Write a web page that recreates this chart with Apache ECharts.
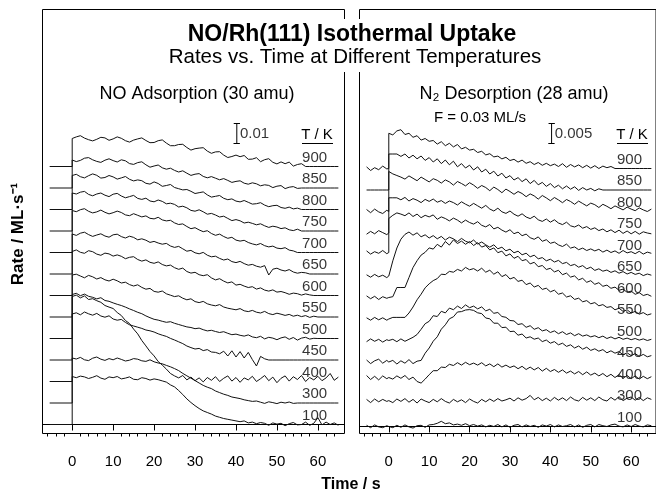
<!DOCTYPE html>
<html>
<head>
<meta charset="utf-8">
<script src="https://cdn.jsdelivr.net/npm/echarts@6/dist/echarts.min.js"></script>
<style>
html, body { margin: 0; padding: 0; background: #fff; }
#chart { width: 656px; height: 493px; }
</style>
</head>
<body>
<div id="chart"></div>
<script>
// surface temperatures, top trace first
const temps = [900, 850, 800, 750, 700, 650, 600, 550, 500, 450, 400, 300, 100]

// major ticks / labels of the time axes (s)
const timeTicks = [0, 10, 20, 30, 40, 50, 60]

// time (s) of the NO adsorption samples, 0 twice for the step when the beam opens
const noTime = [-5.5, 0, 0,
  1, 2, 3, 4, 5, 6, 7, 8, 9, 10, 11, 12, 13, 14, 15, 16, 17, 18, 19, 20,
  21, 22, 23, 24, 25, 26, 27, 28, 29, 30, 31, 32, 33, 34, 35, 36, 37, 38, 39, 40,
  41, 42, 43, 44, 45, 46, 47, 48, 49, 50, 51, 52, 53, 54, 55, 56, 57, 58, 59, 60,
  61, 62, 63, 64, 65]

// time (s) of the N2 desorption samples
const n2Time = [-5.5, -4.5, -3.5, -2.5, -1.5, -0.5, 0, 0,
  1, 2, 3, 4, 5, 6, 7, 8, 9, 10, 11, 12, 13, 14, 15, 16, 17, 18, 19, 20,
  21, 22, 23, 24, 25, 26, 27, 28, 29, 30, 31, 32, 33, 34, 35, 36, 37, 38, 39, 40,
  41, 42, 43, 44, 45, 46, 47, 48, 49, 50, 51, 52, 53, 54, 55, 56, 57, 58, 59, 60,
  61, 62, 63, 64, 65]

// NO adsorption rate (30 amu), units of 1e-4 ML/s
const noRate900 = [0, 0, 140,
  148, 154, 142, 134, 128, 136, 146, 143, 131, 138,
  148, 141, 129, 122, 132, 138, 143, 130, 119, 120,
  129, 133, 117, 104, 104, 110, 111, 95, 82, 89,
  92, 94, 77, 66, 73, 74, 57, 45, 50, 57,
  49, 55, 36, 37, 44, 24, 34, 39, 21, 13,
  23, 14, 22, 2, 10, 14, 0, 0, 0, 0, 0, 0, 0, 0, 0]
const noRate850 = [0, 0, 140,
  132, 138, 149, 152, 141, 133, 128, 139, 146, 137,
  130, 141, 136, 122, 118, 127, 131, 116, 104, 110,
  115, 101, 94, 99, 88, 80, 86, 74, 63, 69,
  72, 58, 51, 57, 49, 41, 47, 38, 28, 33,
  36, 24, 19, 26, 21, 11, 16, 13, 2, 9,
  12, -3, 4, 7, -2, 0, 0, 0, 0, 0, 0, 0, 0, 0, 0]
const noRate800 = [0, 0, 170,
  176, 164, 158, 169, 178, 171, 157, 160, 170, 163,
  152, 158, 165, 151, 143, 148, 144, 131, 127, 138,
  130, 116, 120, 125, 110, 104, 98, 100, 91, 80,
  84, 88, 73, 62, 66, 70, 56, 49, 53, 42,
  38, 45, 36, 27, 29, 34, 22, 14, 19, 21,
  10, 6, 12, 3, 7, 0, 0, 0, 0, 0, 0, 0, 0, 0, 0]
const noRate750 = [0, 0, 190,
  185, 194, 198, 183, 176, 185, 190, 179, 172, 184,
  188, 175, 166, 172, 178, 163, 158, 164, 150, 146,
  155, 148, 136, 139, 133, 120, 124, 116, 103, 99,
  106, 96, 84, 88, 80, 70, 74, 63, 52, 57,
  51, 40, 44, 38, 31, 36, 26, 18, 24, 20,
  12, 16, 6, 2, 9, 0, 0, 0, 0, 0, 0, 0, 0, 0, 0]
const noRate700 = [0, 0, 210,
  204, 214, 219, 206, 198, 203, 212, 201, 193, 199,
  207, 200, 188, 184, 194, 186, 178, 183, 171, 168,
  176, 163, 158, 161, 148, 140, 143, 130, 119, 124,
  113, 104, 109, 95, 86, 92, 80, 71, 76, 62,
  57, 61, 50, 43, 38, 45, 34, 28, 32, 22,
  19, 24, 12, 8, 0, 0, 0, 0, 0, 0, 0, 0, 0, 0, 0]
const noRate650 = [0, 0, 200,
  193, 204, 209, 197, 188, 195, 201, 190, 184, 196,
  199, 187, 180, 189, 183, 171, 176, 169, 158, 163,
  155, 149, 153, 140, 133, 138, 126, 114, 118, 106,
  101, 108, 94, 86, 89, 78, 70, 75, 62, 57,
  63, 52, 44, 48, 39, 34, 42, -5, 24, 29,
  20, 15, 22, 10, 4, 8, 6, 0, 0, 0, 0, 0, 0, 0, 0]
const noRate600 = [0, 0, 220,
  228, 216, 211, 224, 219, 207, 201, 212, 208, 197,
  203, 196, 184, 191, 194, 180, 172, 178, 166, 161,
  168, 155, 148, 152, 139, 131, 137, 120, 112, 116,
  104, 99, 104, 88, 78, 84, 72, 63, 68, 52,
  56, 47, 40, 44, 32, 38, 27, 22, 28, 17,
  20, 14, 6, 12, 9, 2, 8, 3, 0, 0, 0, 0, 0, 0, 0]
const noRate550 = [0, 0, 210,
  214, 205, 196, 208, 201, 190, 197, 186, 180, 189,
  181, 170, 174, 162, 155, 161, 148, 139, 143, 128,
  124, 130, 116, 109, 102, 106, 94, 86, 91, 77,
  72, 78, 66, 60, 56, 62, 50, 44, 40, 36,
  42, 31, 27, 33, 24, 20, 28, 17, 12, 19,
  14, 8, 13, 4, 9, 2, 7, -2, 4, 0, 0, 0, 0, 0, 0]
const noRate500 = [0, 0, 220,
  226, 214, 222, 211, 206, 198, 204, 190, 186, 178,
  171, 165, 157, 148, 140, 131, 124, 113, 104, 96,
  92, 86, 81, 84, 76, 70, 64, 58, 55, 49,
  52, 44, 38, 41, 35, 30, 34, 26, 19, 22,
  16, 12, 18, 8, 4, 11, -2, 6, 2, -6,
  3, 8, -4, 5, -8, 2, 6, -3, 1, 0, 0, 0, 0, 0, 0]
const noRate450 = [0, 0, 230,
  236, 226, 240, 231, 224, 233, 220, 214, 221, 205,
  199, 203, 188, 176, 170, 164, 158, 150, 146, 140,
  131, 124, 118, 108, 100, 91, 82, 70, 62, 55,
  58, 47, 52, 40, 38, 31, 44, 20, 46, 15,
  42, 10, 38, 2, -30, 18, 6,
  0, 0, 0, 0, 0, 0, 0, 0, 0, 0, 0, 0, 0, 0, 0, 0, 0, 0]
const noRate400 = [0, 0, 425,
  432, 418, 428, 410, 414, 404, 396, 380, 372, 365,
  345, 330, 305, 290, 262, 238, 205, 178, 150, 128,
  100, 82, 62, 40, 28, 18, 30, 8, 22, 4,
  18, -2, 20, 6, 24, 0, 16, 28, 2, 20,
  -4, 18, 8, 26, 0, 14, 30, 4, 22, -6,
  16, 28, 2, 24, 10, 30, 0, 20, 8, 26,
  4, 18, 40, 6, 22]
const noRate300 = [0, 0, 225,
  220, 228, 216, 212, 224, 230, 219, 213, 222, 216,
  225, 218, 210, 214, 222, 219, 211, 208, 216, 206,
  200, 196, 188, 181, 172, 162, 148, 136, 124, 112,
  100, 88, 79, 72, 60, 52, 44, 38, 30, 26,
  22, 16, 12, 8, 10, 4, -2, 6, 2, -3,
  4, 0, 5, -2, 0, 0, 0, 0, 0, 0, 0, 0, 0, 0, 0]
const noRate100 = [0, 0, 240,
  234, 242, 238, 230, 236, 244, 232, 226, 238, 234,
  240, 228, 232, 238, 226, 224, 234, 230, 222, 228,
  224, 218, 212, 198, 188, 170, 150, 128, 110, 94,
  80, 68, 60, 52, 42, 36, 30, 26, 22, 18,
  14, 18, 8, 12, 4, 10, 6, -4, 8, 2,
  6, -6, 4, 10, -2, 0, 12, -4, 6, 34,
  -2, 12, 0, 8, -4]

// N2 desorption rate (28 amu), units of 1e-4 ML/s
const n2Rate900 = [4, -5, 2, -3, 6, -1, 0, 88,
  84, 94, 97, 85, 88, 78, 82, 71, 75, 68,
  70, 61, 67, 57, 63, 54, 60, 49, 53, 46,
  48, 40, 43, 34, 37, 29, 31, 24, 28, 20,
  23, 16, 21, 13, 17, 10, 15, 8, 13, 7,
  11, 5, 12, 3, 10, 4, 9, 2, 8, 1,
  7, 0, 6, 2, 5, 0, 0, 0, 0, 0, 0, 0, 0, 0, 0]
const n2Rate850 = [0, 0, 0, 0, 0, 0, 0, 90,
  90, 90, 84, 90, 80, 87, 78, 85, 74, 81,
  70, 78, 66, 75, 63, 72, 58, 66, 55, 62,
  50, 58, 45, 52, 40, 47, 35, 42, 30, 36,
  25, 31, 21, 28, 16, 24, 13, 19, 9, 16,
  6, 12, 3, 10, 2, 8, -1, 6, 0, 4,
  -2, 3, 0, 0, 0, 0, 0, 0, 0, 0, 0, 0, 0, 0, 0]
const n2Rate800 = [5, -3, 6, -1, -5, 3, 0, 100,
  94, 90, 86, 81, 89, 83, 77, 86, 80, 74,
  82, 78, 71, 79, 74, 66, 75, 70, 64, 72,
  66, 58, 65, 60, 52, 61, 55, 47, 56, 50,
  43, 50, 45, 37, 44, 39, 31, 40, 34, 27,
  35, 29, 22, 30, 25, 18, 26, 20, 14, 21,
  17, 10, 18, 13, 7, 14, 9, 4, 11, 6,
  2, 9, 4, 0, 6]
const n2Rate750 = [-3, 4, -2, 6, 1, -4, 0, 88,
  88, 88, 83, 89, 80, 86, 82, 76, 84, 79,
  85, 77, 81, 74, 80, 76, 70, 78, 72, 67,
  74, 68, 62, 69, 60, 55, 62, 53, 49, 55,
  47, 42, 48, 40, 36, 42, 33, 29, 35, 27,
  33, 25, 21, 27, 18, 15, 20, 12, 16, 9,
  13, 6, 10, 3, 8, 1, 7, -1, 5, -2,
  4, -3, 3, 0, -2]
const n2Rate700 = [9, 1, 7, 3, 10, 2, 5, 90,
  98, 104, 101, 97, 104, 95, 101, 92, 98, 94,
  99, 88, 94, 90, 84, 91, 86, 79, 86, 80,
  76, 82, 73, 69, 75, 64, 68, 61, 56, 62,
  52, 56, 47, 51, 42, 38, 44, 33, 37, 28,
  31, 24, 20, 26, 16, 19, 12, 16, 10, 14,
  9, 13, 6, 11, 5, 9, 3, 10, 4, 7,
  2, 8, 1, 6, 3]
const n2Rate650 = [3, -3, 4, -2, 2, -4, 0, 0,
  38, 70, 92, 104, 110, 102, 108, 98, 103, 95,
  101, 93, 99, 90, 97, 93, 86, 94, 87, 83,
  90, 80, 85, 78, 72, 78, 68, 72, 63, 67,
  58, 62, 53, 57, 48, 52, 43, 46, 38, 42,
  35, 39, 31, 34, 26, 29, 22, 26, 18, 22,
  14, 18, 12, 15, 9, 13, 7, 11, 5, 9,
  4, 7, 1, 5, 2]
const n2Rate600 = [4, -3, 3, -5, 2, -2, 0, 0,
  2, 25, 25, 25, 50, 75, 92, 106, 113, 124,
  121, 133, 126, 140, 131, 144, 135, 141, 133, 140,
  130, 137, 126, 130, 119, 124, 112, 116, 104, 109,
  98, 103, 92, 95, 84, 88, 77, 80, 70, 73,
  64, 68, 57, 61, 51, 54, 44, 48, 38, 42,
  33, 37, 28, 31, 23, 26, 18, 21, 13, 16,
  8, 12, 5, 8, 3]
const n2Rate550 = [3, -3, 4, -2, 3, -3, 0, 4,
  4, 4, 4, 4, 15, 30, 48, 62, 78, 88,
  96, 101, 112, 111, 119, 117, 124, 120, 129, 123,
  126, 120, 127, 117, 122, 112, 118, 106, 111, 100,
  104, 94, 97, 86, 90, 80, 84, 74, 77, 68,
  72, 62, 65, 55, 58, 49, 52, 43, 46, 38,
  41, 33, 36, 29, 31, 23, 27, 19, 23, 15,
  19, 12, 16, 10, 13]
const n2Rate500 = [-3, 4, -2, 3, -4, 2, 0, 0,
  3, -3, 4, -2, 3, 8, 15, 28, 42, 48,
  62, 60, 73, 69, 81, 77, 86, 80, 89, 82,
  86, 79, 84, 74, 78, 68, 70, 60, 58, 50,
  49, 40, 42, 33, 37, 28, 32, 24, 27, 20,
  24, 17, 22, 15, 19, 12, 17, 11, 14, 9,
  12, 7, 11, 5, 9, 4, 8, 3, 6, 2,
  5, 1, 4, 0, 3]
const n2Rate450 = [5, -4, 3, 7, -3, 4, 0, 0,
  4, -5, 3, -3, 6, -4, 2, 4, 22, 35,
  52, 63, 82, 93, 108, 113, 125, 126, 130, 131,
  129, 123, 121, 110, 108, 97, 97, 86, 87, 76,
  77, 67, 70, 60, 63, 57, 60, 51, 55, 47,
  51, 43, 47, 39, 43, 35, 40, 32, 37, 29,
  33, 27, 31, 23, 28, 22, 26, 18, 23, 16,
  21, 14, 19, 13, 16]
const n2Rate400 = [20, 10, 18, 9, 19, 12, 15, 15,
  11, 19, 13, 20, 10, 16, 5, 1, 11, 22,
  32, 32, 41, 40, 48, 45, 52, 46, 53, 47,
  51, 46, 52, 44, 49, 42, 49, 41, 46, 40,
  44, 37, 43, 35, 41, 34, 40, 31, 38, 30,
  35, 28, 34, 26, 31, 24, 30, 22, 29, 21,
  26, 19, 25, 17, 23, 15, 22, 13, 20, 12,
  19, 11, 18, 12, 17]
const n2Rate300 = [14, 6, 15, 8, 14, 9, 11, 11,
  6, 15, 9, 16, 7, 14, 5, 15, 10, 6,
  14, 8, 16, 9, 5, 14, 8, 13, 6, 15,
  9, 5, 14, 8, 15, 9, 16, 10, 13, 17,
  10, 18, 12, 16, 24, 13, 19, 11, 17, 10,
  19, 12, 18, 11, 20, 13, 10, 19, 12, 18,
  11, 20, 13, 10, 19, 12, 21, 11, 17, 20,
  12, 19, 11, 18, 14]
const n2Rate100 = [3, -3, 4, -1, -3, 2, 0, 0,
  -3, 3, -2, 4, -1, -4, 2, 3, -2, 4,
  5, 8, 13, 7, 9, 4, 6, 3, 7, 2,
  5, 1, 4, -1, 3, 0, 5, -1, 4, -2,
  3, 5, -1, 4, 0, 3, -2, 4, 1, 5,
  -1, 4, 0, 2, 5, -1, 4, -2, 3, 5,
  -1, 5, 2, 0, 4, 6, 1, -1, 4, 0,
  5, 1, -1, 4, 2]

const noRates = [noRate900, noRate850, noRate800, noRate750, noRate700, noRate650, noRate600,
  noRate550, noRate500, noRate450, noRate400, noRate300, noRate100]
const n2Rates = [n2Rate900, n2Rate850, n2Rate800, n2Rate750, n2Rate700, n2Rate650, n2Rate600,
  n2Rate550, n2Rate500, n2Rate450, n2Rate400, n2Rate300, n2Rate100]

// scale bars, 1e-4 ML/s
const noBar = 100
const n2Bar = 50

const font = 'Liberation Sans, Arial, Helvetica, sans-serif'
const ink = '#111'

// step = vertical spacing between stacked traces, 1e-4 ML/s
const panels = [
  { time: noTime, rates: noRates, step: 107.5, yMin: -45, yMax: 2075,
    xMin: -7.25, xMax: 66.5, labelAt: 59.2, bar: noBar, barAt: 40.2, barBottom: 1405, barText: '0.01' },
  { time: n2Time, rates: n2Rates, step: 53.75, yMin: -17.5, yMax: 1042.5,
    xMin: -7.25, xMax: 66.15, labelAt: 59.6, bar: n2Bar, barAt: 40.3, barBottom: 707.5, barText: '0.005' },
]

const minorTicks = []
for (let t = -6; t <= 64; t += 2) {
  if (t % 10 !== 0) minorTicks.push(t)
}

function offsetOf(panel, i) {
  return (temps.length - 1 - i) * panel.step
}

function createSeries() {
  const series = []

  panels.forEach((panel, p) => {
    const axes = { xAxisIndex: p * 2, yAxisIndex: p }

    panel.rates.forEach((rate, i) => {
      const offset = offsetOf(panel, i)
      series.push({
        ...axes,
        data: panel.time.map((t, k) => [t, rate[k] + offset]),
        lineStyle: { color: ink, width: 1 },
        name: (p === 0 ? 'NO ' : 'N2 ') + temps[i] + ' K',
        showSymbol: false,
        silent: true,
        type: 'line',
      })
    })

    // temperature labels sit on the zero line of each trace
    series.push({
      ...axes,
      data: temps.map((T, i) => [panel.labelAt, offsetOf(panel, i), T]),
      itemStyle: { color: 'rgba(0,0,0,0)' },
      label: {
        color: '#000',
        distance: 1,
        fontFamily: font,
        fontSize: 15,
        formatter: (d) => String(d.value[2]),
        position: 'top',
        show: true,
      },
      silent: true,
      symbolSize: 1,
      type: 'scatter',
    })

    const t = panel.barAt
    const top = panel.barBottom + panel.bar
    const bottom = panel.barBottom
    series.push({
      ...axes,
      data: [[t - 0.75, top], [t + 0.75, top], [t, top], [t, bottom], [t - 0.75, bottom], [t + 0.75, bottom]],
      lineStyle: { color: '#000', width: 1 },
      showSymbol: false,
      silent: true,
      type: 'line',
    })
    series.push({
      ...axes,
      data: [[t + 0.4, bottom + panel.bar / 2]],
      itemStyle: { color: 'rgba(0,0,0,0)' },
      label: {
        color: '#000',
        distance: 1,
        fontFamily: font,
        fontSize: 15,
        formatter: panel.barText,
        position: 'right',
        show: true,
      },
      silent: true,
      symbolSize: 1,
      type: 'scatter',
    })
  })

  return series
}

function createAxes() {
  const xAxis = []
  const yAxis = []

  panels.forEach((panel, p) => {
    xAxis.push({
      axisLabel: { color: '#000', customValues: timeTicks, fontFamily: font, fontSize: 15, margin: 21 },
      axisLine: { lineStyle: { color: '#000', width: 1 }, show: true },
      axisTick: { customValues: timeTicks, length: 6, lineStyle: { color: '#000' } },
      gridIndex: p,
      max: panel.xMax,
      min: panel.xMin,
      position: 'bottom',
      splitLine: { show: false },
      type: 'value',
    })
    xAxis.push({
      axisLabel: { show: false },
      axisLine: { show: false },
      axisTick: { customValues: minorTicks, length: 3, lineStyle: { color: '#000' } },
      gridIndex: p,
      max: panel.xMax,
      min: panel.xMin,
      position: 'bottom',
      splitLine: { show: false },
      type: 'value',
    })
    yAxis.push({
      gridIndex: p,
      max: panel.yMax,
      min: panel.yMin,
      show: false,
      type: 'value',
    })
  })

  return { xAxis, yAxis }
}

function text(x, y, str, size, weight, extra) {
  return Object.assign({
    type: 'text',
    x: x,
    y: y,
    z: 101,
    style: {
      align: 'center',
      fill: '#000',
      font: (weight || 'normal') + ' ' + size + 'px ' + font,
      text: str,
      verticalAlign: 'middle',
    },
  }, extra || {})
}

function underline(x1, x2, y) {
  return { type: 'line', z: 101, shape: { x1: x1, y1: y, x2: x2, y2: y }, style: { stroke: '#000', lineWidth: 1 } }
}

const chart = echarts.init(document.getElementById('chart'), null, { renderer: 'canvas' })
const axes = createAxes()

chart.setOption({
  animation: false,
  backgroundColor: '#fff',
  graphic: [
    // the title sits across the two frames
    { type: 'rect', z: 100, shape: { x: 336, y: 19, width: 30, height: 53 }, style: { fill: '#fff' } },
    text(352, 35, 'NO/Rh(111) Isothermal Uptake', 23, 'bold'),
    text(355, 57, 'Rates vs. Time at Different Temperatures', 20.5),
    text(197, 94, 'NO Adsorption (30 amu)', 18),
    text(514, 94, 'N\u2082 Desorption (28 amu)', 18),
    text(480, 118, 'F = 0.03 ML/s', 15),
    text(317, 135, 'T / K', 15),
    underline(302, 333, 143.5),
    text(632, 135, 'T / K', 15),
    underline(617, 648, 143.5),
    text(18, 234, 'Rate / ML\u00b7s\u207b\u00b9', 17, 'bold', { rotation: Math.PI / 2 }),
    text(351, 485, 'Time / s', 16, 'bold'),
  ],
  grid: [
    { borderColor: '#000', borderWidth: 1, height: 424, left: 42.5, show: true, top: 9.5, width: 302 },
    { borderColor: '#000', borderWidth: 1, height: 424, left: 359.5, show: true, top: 9.5, width: 298 },
  ],
  series: createSeries(),
  xAxis: axes.xAxis,
  yAxis: axes.yAxis,
})
</script>
</body>
</html>
